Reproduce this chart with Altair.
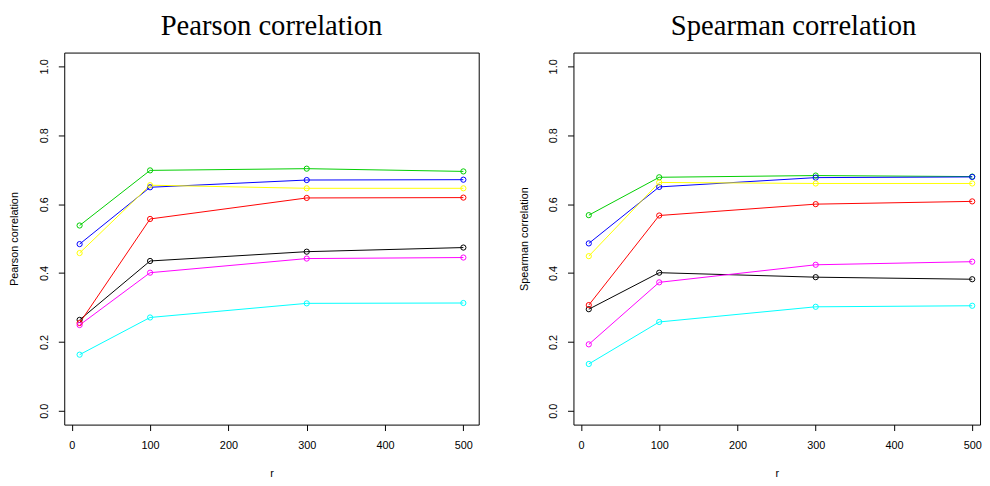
import altair as alt
import pandas as pd

# ---- data ----
r_values = [10, 100, 300, 500]
series_names = ["black", "red", "green", "blue", "cyan", "magenta", "yellow"]
series_colors = ["#000000", "#FF0000", "#00CD00", "#0000FF", "#00FFFF", "#FF00FF", "#FFFF00"]

pearson_black = [0.264, 0.435, 0.462, 0.474]
pearson_red = [0.255, 0.557, 0.618, 0.619]
pearson_green = [0.538, 0.698, 0.703, 0.695]
pearson_blue = [0.484, 0.649, 0.670, 0.671]
pearson_cyan = [0.163, 0.271, 0.312, 0.313]
pearson_magenta = [0.249, 0.401, 0.442, 0.445]
pearson_yellow = [0.458, 0.655, 0.646, 0.646]

spearman_black = [0.295, 0.401, 0.388, 0.382]
spearman_red = [0.307, 0.567, 0.600, 0.608]
spearman_green = [0.568, 0.678, 0.683, 0.680]
spearman_blue = [0.486, 0.650, 0.677, 0.679]
spearman_cyan = [0.136, 0.258, 0.302, 0.305]
spearman_magenta = [0.193, 0.373, 0.424, 0.433]
spearman_yellow = [0.449, 0.663, 0.660, 0.660]

x_ticks = [0, 100, 200, 300, 400, 500]
y_ticks = [0.0, 0.2, 0.4, 0.6, 0.8, 1.0]

pearson = [pearson_black, pearson_red, pearson_green, pearson_blue,
           pearson_cyan, pearson_magenta, pearson_yellow]
spearman = [spearman_black, spearman_red, spearman_green, spearman_blue,
            spearman_cyan, spearman_magenta, spearman_yellow]


def make_df(values):
    rows = []
    for name, vals in zip(series_names, values):
        for r, v in zip(r_values, vals):
            rows.append({"r": r, "value": v, "series": name})
    return pd.DataFrame(rows)


def panel(title, ytitle, values, xdomain, width, dx):
    df = make_df(values)
    x = alt.X("r:Q",
              scale=alt.Scale(domain=xdomain, nice=False, zero=False),
              axis=alt.Axis(values=x_ticks, title="r", format="d",
                            labelPadding=9, titlePadding=18))
    y = alt.Y("value:Q",
              scale=alt.Scale(domain=[-0.04, 1.04], nice=False, zero=False),
              axis=alt.Axis(values=y_ticks, format=".1f", title=ytitle,
                            labelAngle=-90, labelPadding=9, titlePadding=19))
    color = alt.Color("series:N",
                      scale=alt.Scale(domain=series_names, range=series_colors),
                      legend=None)
    base = alt.Chart(df).encode(x=x, y=y, color=color, detail="series:N")
    lines = base.mark_line(strokeWidth=1)
    pts = base.mark_point(shape="circle", filled=False, size=28,
                          strokeWidth=1, opacity=1)
    return alt.layer(lines, pts).properties(
        width=width, height=377,
        title=alt.TitleParams(title, font="Liberation Serif", fontSize=29,
                              fontWeight="normal", anchor="middle",
                              frame="group", color="black", offset=12, dx=dx),
    )


left = panel("Pearson correlation", "Pearson correlation", pearson,
             [-9.6, 519.6], 420, 0)
right = panel("Spearman correlation", "Spearman correlation", spearman,
              [-9.6, 510.0], 412, 17)

chart = alt.hconcat(left, right, spacing=38).properties(
    padding={"left": 0, "top": 0, "right": 0, "bottom": 0}
).configure_view(
    stroke="black", strokeWidth=1
).configure_axis(
    domain=False, grid=False, tickColor="black", tickSize=6, tickWidth=1,
    labelColor="black", titleColor="black", labelFont="Liberation Sans",
    titleFont="Liberation Sans", labelFontSize=11, titleFontSize=11,
    titleFontWeight="normal"
)

chart.save("out.html", embed_options={"renderer": "svg", "actions": False})
